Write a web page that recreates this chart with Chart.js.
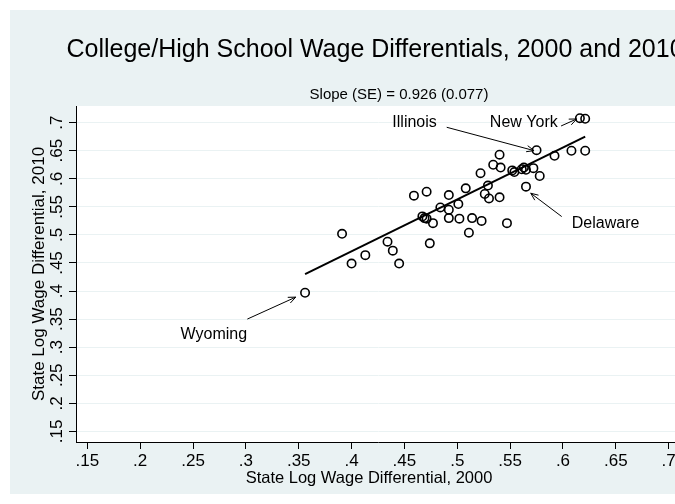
<!DOCTYPE html>
<html>
<head>
<meta charset="utf-8">
<title>College/High School Wage Differentials</title>
<script src="https://cdn.jsdelivr.net/npm/chart.js@4.4.0/dist/chart.umd.min.js"></script>
<style>
    html, body { margin: 0; padding: 0; background: #fff; overflow: hidden; }
    #wrap { width: 700px; height: 504px; }
</style>
</head>
<body>
<div id="wrap"><canvas id="wageChart" width="700" height="504"></canvas></div>
<script>
// State log wage differentials (college vs high school)
const wage2000 = [
    0.616, 0.621, 0.575, 0.592, 0.608, 0.621, 0.540, 0.534, 0.541, 0.552,
    0.561, 0.563, 0.572, 0.578, 0.565, 0.522, 0.529, 0.526, 0.530, 0.540,
    0.508, 0.492, 0.501, 0.484, 0.492, 0.459, 0.471, 0.467, 0.471, 0.477,
    0.492, 0.502, 0.514, 0.523, 0.511, 0.547, 0.474, 0.391, 0.434, 0.439,
    0.413, 0.400, 0.445, 0.356, 0.554, 0.565, 0.469
];
const wage2010 = [
    0.708, 0.707, 0.651, 0.641, 0.650, 0.650, 0.643, 0.625, 0.620, 0.615,
    0.617, 0.620, 0.619, 0.605, 0.586, 0.610, 0.588, 0.573, 0.565, 0.567,
    0.583, 0.571, 0.555, 0.549, 0.545, 0.570, 0.577, 0.533, 0.529, 0.521,
    0.530, 0.529, 0.530, 0.525, 0.504, 0.521, 0.485, 0.502, 0.488, 0.472,
    0.464, 0.449, 0.449, 0.397, 0.612, 0.616, 0.530
];

// Regression fit, slope 0.926
const fitX = [0.356, 0.621];
const fitY = [0.430, 0.675];

const xTicks = [0.15, 0.2, 0.25, 0.3, 0.35, 0.4, 0.45, 0.5, 0.55, 0.6, 0.65, 0.7];
const yTicks = [0.15, 0.2, 0.25, 0.3, 0.35, 0.4, 0.45, 0.5, 0.55, 0.6, 0.65, 0.7];
const tickLabels = ['.15', '.2', '.25', '.3', '.35', '.4', '.45', '.5', '.55', '.6', '.65', '.7'];

// Labelled states: label spot and arrow (data units)
const stateNames = ['Illinois', 'New York', 'Delaware', 'Wyoming'];
const nameX = [0.4596, 0.5629, 0.6403, 0.2697];
const nameY = [0.700, 0.700, 0.5209, 0.3221];
const arrowFromX = [0.4900, 0.5982, 0.5988, 0.3014];
const arrowFromY = [0.6918, 0.6941, 0.5327, 0.3501];
const arrowToX = [0.5726, 0.6130, 0.5695, 0.3472];
const arrowToY = [0.6502, 0.7066, 0.5743, 0.3892];

const FONT = "'Liberation Sans', Arial, sans-serif";
const PANEL = '#eaf2f3';

function drawArrow(ctx, x1, y1, x2, y2) {
    const ang = Math.atan2(y2 - y1, x2 - x1);
    const head = 8;
    ctx.beginPath();
    ctx.moveTo(x1, y1);
    ctx.lineTo(x2, y2);
    ctx.moveTo(x2 - head * Math.cos(ang - 0.4), y2 - head * Math.sin(ang - 0.4));
    ctx.lineTo(x2, y2);
    ctx.lineTo(x2 - head * Math.cos(ang + 0.4), y2 - head * Math.sin(ang + 0.4));
    ctx.stroke();
}

const stataLook = {
    id: 'stataLook',
    beforeDraw(chart) {
        const { ctx, chartArea: a, width, height } = chart;
        ctx.save();
        ctx.fillStyle = '#fff';
        ctx.fillRect(0, 0, width, height);
        ctx.fillStyle = PANEL;
        ctx.fillRect(10, 10, width - 10, height - 20);
        ctx.fillStyle = '#fff';
        ctx.fillRect(a.left, a.top, a.right - a.left, a.bottom - a.top);
        ctx.restore();
    },
    afterDatasetsDraw(chart) {
        const { ctx, scales: { x, y } } = chart;
        ctx.save();
        ctx.strokeStyle = '#000';
        ctx.fillStyle = '#000';
        ctx.lineWidth = 1;
        ctx.font = '16px ' + FONT;
        ctx.textAlign = 'center';
        ctx.textBaseline = 'middle';
        stateNames.forEach((name, i) => {
            ctx.fillText(name, x.getPixelForValue(nameX[i]), y.getPixelForValue(nameY[i]));
            drawArrow(ctx,
                x.getPixelForValue(arrowFromX[i]), y.getPixelForValue(arrowFromY[i]),
                x.getPixelForValue(arrowToX[i]), y.getPixelForValue(arrowToY[i]));
        });

        // rotated y tick labels
        ctx.font = '17px ' + FONT;
        yTicks.forEach((v, i) => {
            ctx.save();
            ctx.translate(57, y.getPixelForValue(v));
            ctx.rotate(-Math.PI / 2);
            ctx.fillText(tickLabels[i], 0, 0);
            ctx.restore();
        });

        // titles
        ctx.font = '25px ' + FONT;
        ctx.fillText('College/High School Wage Differentials, 2000 and 2010', 375, 50);
        ctx.font = '15px ' + FONT;
        ctx.fillText('Slope (SE) = 0.926 (0.077)', 399, 95);
        ctx.font = '16.5px ' + FONT;
        ctx.fillText('State Log Wage Differential, 2000', 369, 478);
        ctx.restore();
    }
};

const points = wage2000.map((v, i) => ({ x: v, y: wage2010[i] }));
const fitLine = fitX.map((v, i) => ({ x: v, y: fitY[i] }));

new Chart(document.getElementById('wageChart'), {
    type: 'scatter',
    data: {
        datasets: [{
            data: points,
            pointStyle: 'circle',
            pointRadius: 4.2,
            pointBorderWidth: 1.6,
            borderColor: '#000',
            backgroundColor: 'rgba(0,0,0,0)'
        }, {
            data: fitLine,
            showLine: true,
            pointRadius: 0,
            borderColor: '#000',
            borderWidth: 2
        }]
    },
    options: {
        responsive: false,
        devicePixelRatio: 1,
        animation: false,
        layout: { padding: { left: 0, top: 106, right: 20, bottom: 0 } },
        plugins: {
            legend: { display: false },
            tooltip: { enabled: false }
        },
        scales: {
            x: {
                type: 'linear',
                min: 0.1393,
                max: 0.7107,
                afterBuildTicks: (s) => { s.ticks = xTicks.map(v => ({ value: v })); },
                afterFit: (s) => { s.height = 62; },
                ticks: {
                    callback: (v) => tickLabels[xTicks.indexOf(v)],
                    font: { family: FONT, size: 17 },
                    color: '#000',
                    padding: 2,
                    maxRotation: 0
                },
                grid: { drawOnChartArea: false, tickLength: 7, tickColor: '#000', tickWidth: 1 },
                border: { color: '#000', width: 1 },
                title: { display: false }
            },
            y: {
                type: 'linear',
                min: 0.1311,
                max: 0.7297,
                afterBuildTicks: (s) => { s.ticks = yTicks.map(v => ({ value: v })); },
                afterFit: (s) => { s.width = 76; },
                ticks: { display: false },
                grid: { color: PANEL, lineWidth: 1, tickLength: 7, tickColor: '#000', tickWidth: 1 },
                border: { color: '#000', width: 1 },
                title: {
                    display: true,
                    text: 'State Log Wage Differential, 2010',
                    font: { family: FONT, size: 17 },
                    color: '#000',
                    padding: { top: 29, bottom: 0 }
                }
            }
        }
    },
    plugins: [stataLook]
});
</script>
</body>
</html>
